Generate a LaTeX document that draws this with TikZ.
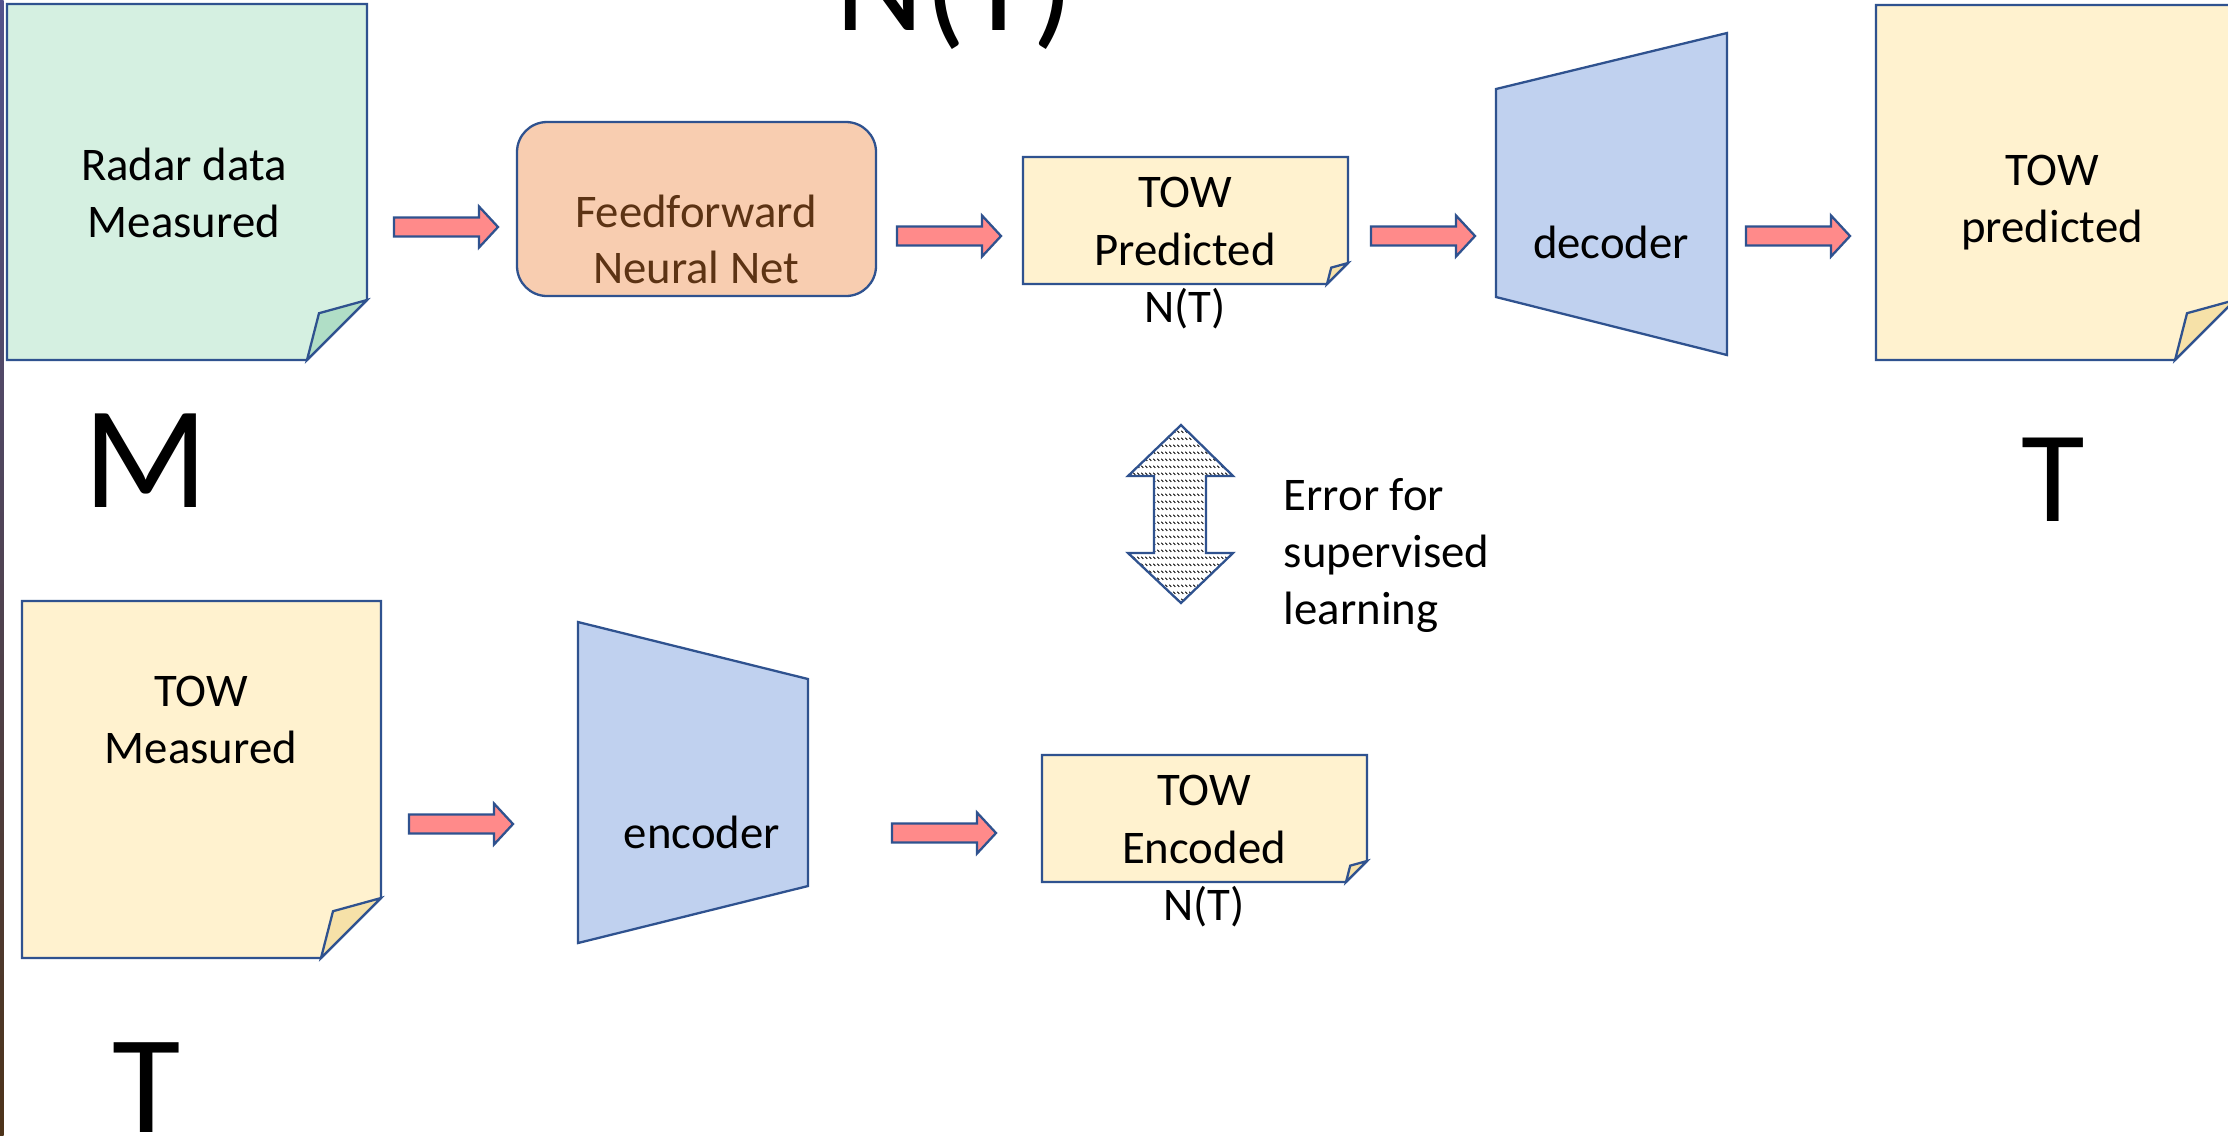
\documentclass[tikz,border=0pt]{standalone}
\usepackage{fontspec}
\setmainfont{Carlito}
\usetikzlibrary{patterns}
\definecolor{bord}{HTML}{2F528F}
\definecolor{notegreen}{HTML}{D5F0E1}
\definecolor{foldgreen}{HTML}{B0DEC6}
\definecolor{noteyellow}{HTML}{FFF2CF}
\definecolor{foldyellow}{HTML}{F6E1A8}
\definecolor{ffnnfill}{HTML}{F8CDB0}
\definecolor{ffnntext}{HTML}{5C3314}
\definecolor{trapfill}{HTML}{C0D1EF}
\definecolor{arrfill}{HTML}{FF8A8A}
\pgfdeclarepatternformonly{dashrows}{\pgfpointorigin}{\pgfqpoint{1.25pt}{2.1pt}}{\pgfqpoint{1.25pt}{2.1pt}}{%
  \pgfsetlinewidth{0.3pt}%
  \pgfpathmoveto{\pgfqpoint{0.1pt}{1.6pt}}%
  \pgfpathlineto{\pgfqpoint{0.75pt}{0.95pt}}%
  \pgfusepath{stroke}}
\tikzset{
  outl/.style={draw=bord, line width=0.65pt, line join=miter},
  txt/.style={inner sep=0pt, anchor=base, font=\fontsize{13.3}{16.2}\selectfont},
  big/.style={inner sep=0pt, anchor=base, font=\fontsize{38}{46}\selectfont},
  blockarrow/.style={outl, fill=arrfill}
}
\newcommand\notebox[7]{% x1 y1 x2 y2 fold fill foldfill
  \filldraw[outl, fill=#6] (#1,#2) -- (#3,#2) -- (#3,{#4-#5}) -- ({#3-#5},#4) -- (#1,#4) -- cycle;
  \filldraw[outl, fill=#7] ({#3-#5},#4) -- ({#3-0.8*#5},{#4-0.78*#5}) -- (#3,{#4-#5}) -- cycle;
}
\newcommand\blockarr[2]{% x-left y-center
  \filldraw[blockarrow] (#1,{#2-9.5}) -- ({#1+85},{#2-9.5}) -- ({#1+85},{#2-20.5}) -- ({#1+104},#2)
    -- ({#1+85},{#2+20.5}) -- ({#1+85},{#2+9.5}) -- (#1,{#2+9.5}) -- cycle;
}
\begin{document}
\begin{tikzpicture}[x=0.01cm,y=-0.01cm]
\useasboundingbox (0,0) rectangle (2228,1135);
\clip (0,0) rectangle (2228,1135);
\fill[white] (0,0) rectangle (2228,1135);
\shade[top color=black!35!blue!35!gray, bottom color=black!60!brown] (0,0) rectangle (3.5,1135);

% top row
\notebox{7}{4}{367}{360}{60}{notegreen}{foldgreen}
\node[txt] (radar1) at (184,180) {Radar data};
\node[txt] (radar2) at (184,237) {Measured};

\blockarr{394}{227}

\filldraw[outl, fill=ffnnfill, rounded corners=0.3cm] (517,122) rectangle (876,296);
\node[txt, text=ffnntext] (ffnn1) at (696,227) {Feedforward};
\node[txt, text=ffnntext] (ffnn2) at (696,283) {Neural Net};

\blockarr{897}{236}

\notebox{1023}{157}{1348}{284}{21}{noteyellow}{foldyellow}
\node[txt] (pred1) at (1185,207) {TOW};
\node[txt] (pred2) at (1185,265) {Predicted};
\node[txt] (predN) at (1185,322) {N(T)};

\blockarr{1371}{236}

\filldraw[outl, fill=trapfill] (1496,89) -- (1727,33) -- (1727,355) -- (1496,297) -- cycle;
\node[txt] (dec) at (1611,258) {decoder};

\blockarr{1746}{236}

\notebox{1876}{5}{2235}{360}{60}{noteyellow}{foldyellow}
\node[txt] (out1) at (2052,185) {TOW};
\node[txt] (out2) at (2052,242) {predicted};

\node[big, font=\fontsize{39}{46}\selectfont] (Ttop) at (955,30) {N(T)};
\node[big, font=\fontsize{41.5}{48}\selectfont] (M) at (146,507) {M};
\node[big, font=\fontsize{37}{44}\selectfont] (Tright) at (2053,521) {T};

% error arrow
\path[pattern=dashrows, pattern color=black] (1181,425) -- (1233,476) -- (1206,476) -- (1206,553) -- (1233,553)
  -- (1181,603) -- (1128,553) -- (1154,553) -- (1154,476) -- (1128,476) -- cycle;
\draw[outl] (1181,425) -- (1233,476) -- (1206,476) -- (1206,553) -- (1233,553)
  -- (1181,603) -- (1128,553) -- (1154,553) -- (1154,476) -- (1128,476) -- cycle;
\node[txt, anchor=base west] (err1) at (1283,510) {Error for};
\node[txt, anchor=base west] (err2) at (1283,567) {supervised};
\node[txt, anchor=base west] (err3) at (1283,624) {learning};

% bottom row
\notebox{22}{601}{381}{958}{60}{noteyellow}{foldyellow}
\node[txt] (meas1) at (201,706) {TOW};
\node[txt] (meas2) at (201,763) {Measured};
\node[big, font=\fontsize{39.8}{46}\selectfont] (Tbot) at (147,1132) {T};

\blockarr{409}{824}

\filldraw[outl, fill=trapfill] (578,622) -- (808,679) -- (808,886) -- (578,943) -- cycle;
\node[txt] (enc) at (702,848) {encoder};

\blockarr{892}{833}

\notebox{1042}{755}{1367}{882}{21}{noteyellow}{foldyellow}
\node[txt] (enc1) at (1204,805) {TOW};
\node[txt] (enc2) at (1204,863) {Encoded};
\node[txt] (encN) at (1204,920) {N(T)};
\end{tikzpicture}
\end{document}
